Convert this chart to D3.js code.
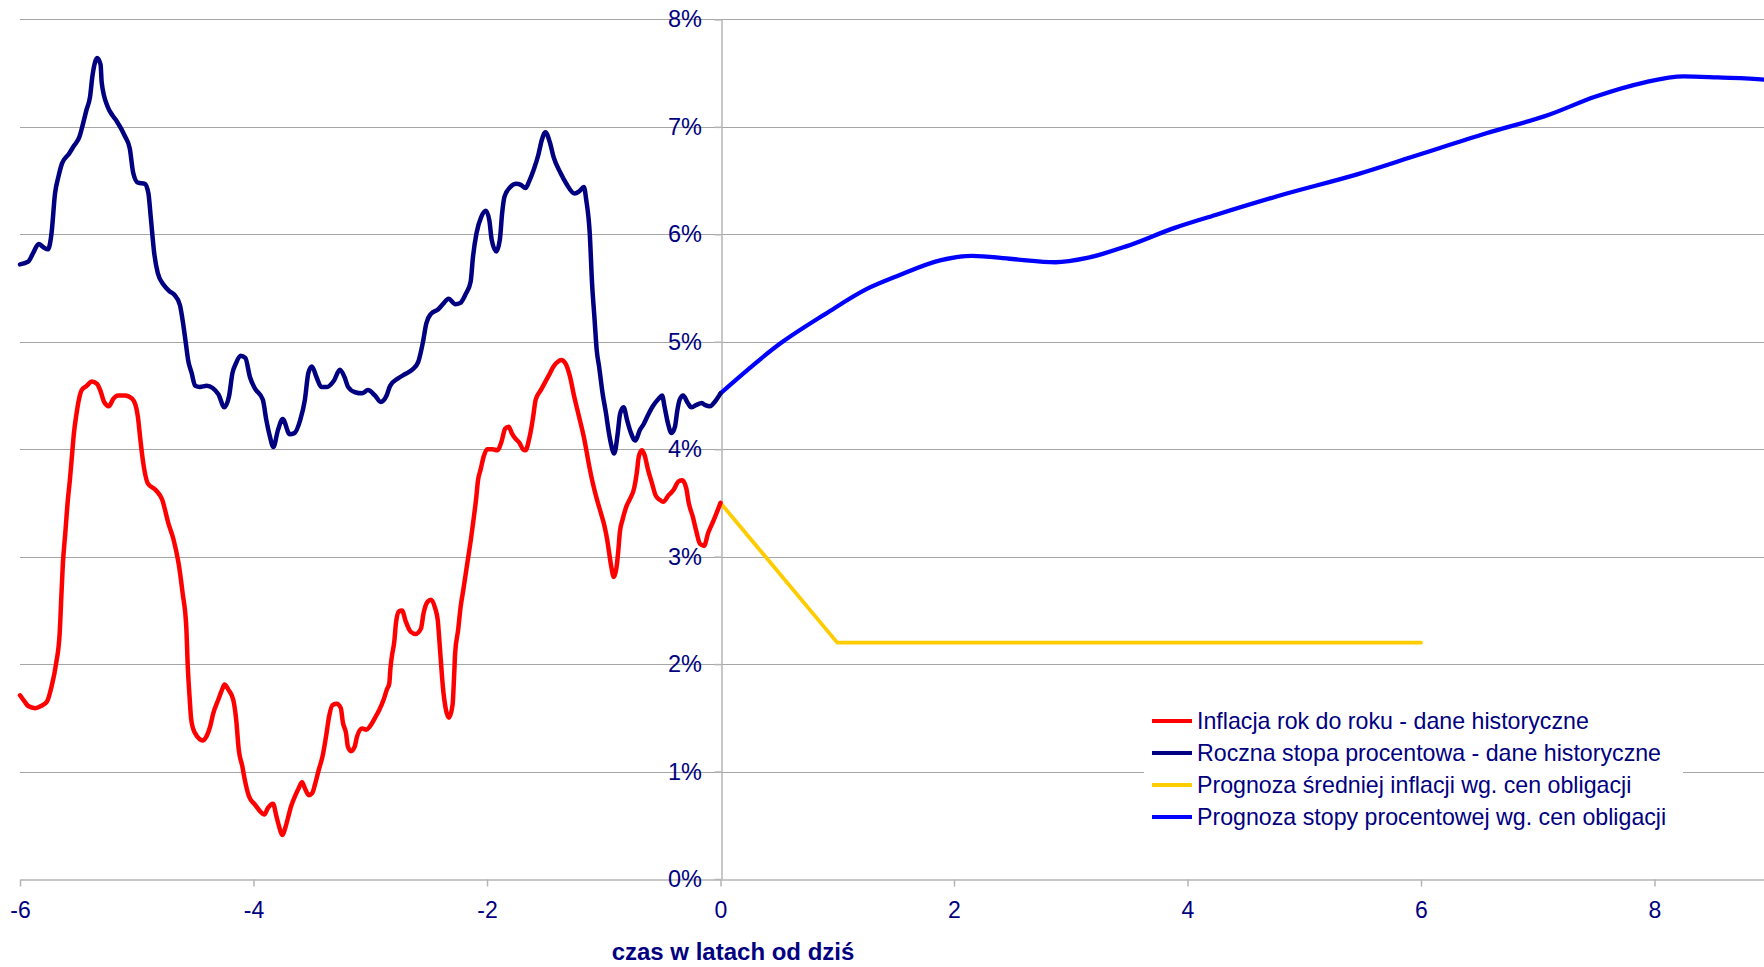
<!DOCTYPE html>
<html lang="pl">
<head>
<meta charset="utf-8">
<script src="https://cdn.jsdelivr.net/npm/d3@7"></script>
<style>
  html, body { margin: 0; padding: 0; background: #ffffff; }
  svg { display: block; }
  text { font-family: "Liberation Sans", Arial, sans-serif; fill: #000080; }
</style>
</head>
<body>
<svg id="chart" width="1764" height="967"></svg>
<script>
// Historical year-on-year inflation, % (years relative to today)
const inflationHistory = [
  [-6.00,1.71],[-5.96,1.65],[-5.93,1.61],[-5.87,1.59],[-5.82,1.61],[-5.77,1.65],[-5.73,1.79],[-5.69,2.01],
  [-5.66,2.29],[-5.647,2.60],[-5.634,2.91],[-5.612,3.22],[-5.59,3.53],[-5.573,3.71],[-5.551,3.99],[-5.538,4.15],
  [-5.516,4.33],[-5.494,4.47],[-5.472,4.55],[-5.428,4.59],[-5.385,4.63],[-5.341,4.61],[-5.31,4.54],[-5.28,4.44],
  [-5.24,4.40],[-5.20,4.47],[-5.16,4.50],[-5.10,4.50],[-5.04,4.47],[-5.01,4.41],[-4.99,4.30],[-4.97,4.10],
  [-4.948,3.90],[-4.904,3.68],[-4.838,3.62],[-4.782,3.53],[-4.729,3.31],[-4.685,3.16],[-4.642,2.94],[-4.607,2.66],
  [-4.576,2.35],[-4.563,1.98],[-4.546,1.67],[-4.533,1.48],[-4.502,1.36],[-4.432,1.29],[-4.401,1.33],[-4.371,1.42],
  [-4.345,1.54],[-4.301,1.67],[-4.270,1.76],[-4.248,1.81],[-4.214,1.76],[-4.174,1.67],[-4.148,1.48],[-4.126,1.20],
  [-4.096,1.05],[-4.074,0.92],[-4.039,0.77],[-3.986,0.69],[-3.943,0.63],[-3.908,0.60],[-3.877,0.66],[-3.833,0.70],
  [-3.803,0.58],[-3.781,0.49],[-3.755,0.41],[-3.724,0.49],[-3.702,0.58],[-3.680,0.67],[-3.645,0.77],[-3.615,0.84],
  [-3.584,0.90],[-3.558,0.84],[-3.527,0.78],[-3.497,0.80],[-3.471,0.89],[-3.440,1.02],[-3.409,1.14],[-3.374,1.36],
  [-3.353,1.51],[-3.322,1.62],[-3.287,1.63],[-3.252,1.59],[-3.235,1.46],[-3.208,1.36],[-3.191,1.23],[-3.165,1.19],
  [-3.134,1.23],[-3.112,1.33],[-3.069,1.40],[-3.034,1.39],[-3.003,1.42],[-2.959,1.50],[-2.924,1.57],[-2.885,1.67],
  [-2.859,1.76],[-2.837,1.82],[-2.828,1.95],[-2.815,2.07],[-2.793,2.22],[-2.780,2.38],[-2.754,2.49],[-2.728,2.50],
  [-2.697,2.40],[-2.653,2.30],[-2.610,2.28],[-2.566,2.33],[-2.544,2.47],[-2.509,2.58],[-2.479,2.60],[-2.444,2.52],
  [-2.422,2.41],[-2.400,2.10],[-2.378,1.79],[-2.356,1.60],[-2.326,1.50],[-2.295,1.62],[-2.282,1.88],[-2.273,2.10],
  [-2.247,2.32],[-2.225,2.54],[-2.203,2.69],[-2.181,2.85],[-2.160,3.00],[-2.138,3.16],[-2.116,3.34],[-2.094,3.53],
  [-2.077,3.71],[-2.055,3.81],[-2.029,3.93],[-1.998,4.00],[-1.954,4.00],[-1.911,3.99],[-1.876,4.07],[-1.845,4.19],
  [-1.814,4.21],[-1.788,4.15],[-1.758,4.10],[-1.723,4.06],[-1.692,4.00],[-1.670,3.99],[-1.640,4.09],[-1.618,4.21],
  [-1.605,4.30],[-1.583,4.46],[-1.539,4.55],[-1.474,4.68],[-1.430,4.77],[-1.386,4.82],[-1.364,4.83],[-1.329,4.80],
  [-1.290,4.68],[-1.255,4.50],[-1.211,4.30],[-1.168,4.10],[-1.124,3.84],[-1.093,3.68],[-1.058,3.53],[-1.023,3.40],
  [-0.993,3.28],[-0.971,3.16],[-0.953,3.03],[-0.936,2.91],[-0.914,2.81],[-0.892,2.89],[-0.875,3.06],[-0.862,3.23],
  [-0.840,3.34],[-0.805,3.47],[-0.774,3.54],[-0.739,3.64],[-0.717,3.78],[-0.700,3.93],[-0.674,3.99],[-0.652,3.95],
  [-0.621,3.81],[-0.586,3.68],[-0.556,3.57],[-0.521,3.53],[-0.490,3.51],[-0.446,3.57],[-0.403,3.62],[-0.359,3.70],
  [-0.328,3.71],[-0.294,3.64],[-0.272,3.50],[-0.237,3.37],[-0.206,3.23],[-0.176,3.12],[-0.141,3.10],[-0.106,3.22],
  [-0.062,3.33],[0,3.50]
];

// Historical one-year interest rate, %
const rateHistory = [
  [-6.00,5.72],[-5.93,5.745],[-5.89,5.82],[-5.84,5.91],[-5.80,5.88],[-5.76,5.86],[-5.73,6.01],[-5.70,6.38],
  [-5.67,6.54],[-5.64,6.66],[-5.58,6.75],[-5.54,6.82],[-5.49,6.91],[-5.46,7.03],[-5.43,7.16],[-5.40,7.28],
  [-5.38,7.47],[-5.36,7.59],[-5.34,7.64],[-5.31,7.58],[-5.30,7.41],[-5.25,7.19],[-5.21,7.11],[-5.17,7.05],
  [-5.10,6.91],[-5.06,6.80],[-5.03,6.57],[-4.99,6.48],[-4.93,6.47],[-4.90,6.38],[-4.88,6.16],[-4.85,5.82],
  [-4.82,5.64],[-4.77,5.53],[-4.72,5.47],[-4.68,5.44],[-4.63,5.34],[-4.61,5.22],[-4.58,4.99],[-4.56,4.83],
  [-4.53,4.71],[-4.50,4.59],[-4.46,4.58],[-4.40,4.59],[-4.35,4.57],[-4.30,4.51],[-4.25,4.39],[-4.21,4.49],
  [-4.18,4.71],[-4.15,4.80],[-4.11,4.87],[-4.07,4.85],[-4.03,4.67],[-3.99,4.57],[-3.92,4.46],[-3.89,4.27],
  [-3.86,4.12],[-3.83,4.02],[-3.79,4.18],[-3.75,4.28],[-3.69,4.14],[-3.65,4.15],[-3.60,4.27],[-3.56,4.46],
  [-3.53,4.71],[-3.50,4.77],[-3.46,4.67],[-3.42,4.58],[-3.37,4.58],[-3.31,4.64],[-3.26,4.74],[-3.22,4.67],
  [-3.19,4.58],[-3.13,4.53],[-3.07,4.52],[-3.02,4.55],[-2.96,4.50],[-2.91,4.44],[-2.86,4.50],[-2.83,4.59],
  [-2.76,4.66],[-2.70,4.70],[-2.64,4.74],[-2.59,4.81],[-2.55,4.99],[-2.52,5.17],[-2.48,5.26],[-2.42,5.30],
  [-2.37,5.36],[-2.33,5.40],[-2.27,5.35],[-2.23,5.36],[-2.18,5.45],[-2.14,5.56],[-2.12,5.79],[-2.09,6.01],
  [-2.05,6.16],[-2.01,6.22],[-1.98,6.13],[-1.96,5.95],[-1.92,5.84],[-1.89,5.95],[-1.87,6.20],[-1.85,6.35],
  [-1.80,6.44],[-1.75,6.47],[-1.71,6.46],[-1.67,6.43],[-1.64,6.49],[-1.60,6.60],[-1.56,6.74],[-1.53,6.88],
  [-1.50,6.95],[-1.46,6.85],[-1.43,6.72],[-1.37,6.57],[-1.32,6.47],[-1.25,6.38],[-1.21,6.40],[-1.17,6.44],
  [-1.15,6.32],[-1.12,6.01],[-1.10,5.54],[-1.08,5.23],[-1.06,4.92],[-1.04,4.77],[-1.01,4.52],[-0.98,4.33],
  [-0.96,4.18],[-0.94,4.06],[-0.91,3.96],[-0.88,4.15],[-0.86,4.33],[-0.83,4.39],[-0.80,4.27],[-0.77,4.16],
  [-0.73,4.08],[-0.69,4.18],[-0.66,4.23],[-0.62,4.32],[-0.58,4.40],[-0.53,4.47],[-0.50,4.50],[-0.48,4.40],
  [-0.45,4.24],[-0.42,4.15],[-0.39,4.21],[-0.37,4.36],[-0.35,4.46],[-0.32,4.50],[-0.28,4.43],[-0.25,4.39],
  [-0.21,4.41],[-0.16,4.43],[-0.13,4.41],[-0.09,4.40],[-0.05,4.44],[0,4.52]
];

// Average inflation implied by bond prices, %
const inflationForecast = [[0,3.50],[1,2.20],[6,2.20]];

// Interest-rate path implied by bond prices, %
const rateForecast = [
  [0,4.52],[0.52,4.99],[0.90,5.26],[1.25,5.49],[1.51,5.61],[1.89,5.76],[2.15,5.80],[2.50,5.77],
  [2.87,5.74],[3.14,5.78],[3.48,5.89],[3.89,6.06],[4.24,6.18],[4.82,6.37],[5.46,6.56],[5.98,6.74],
  [6.56,6.94],[7.09,7.11],[7.49,7.28],[7.90,7.41],[8.25,7.47],[8.54,7.46],[8.94,7.44],[9.00,7.43]
];

const xTicks = [-6, -4, -2, 0, 2, 4, 6, 8];
const yTicks = [0, 1, 2, 3, 4, 5, 6, 7, 8];
const xTitle = "czas w latach od dziś";

const legendItems = [
  { label: "Inflacja rok do roku - dane historyczne", color: "#ff0000" },
  { label: "Roczna stopa procentowa - dane historyczne", color: "#000080" },
  { label: "Prognoza średniej inflacji wg. cen obligacji", color: "#ffcc00" },
  { label: "Prognoza stopy procentowej wg. cen obligacji", color: "#0000ff" }
];

const W = 1764, H = 967;
const svg = d3.select("#chart");

const x = d3.scaleLinear().domain([-6, 9]).range([20, 20 + 15 * 116.75]);
const y = d3.scaleLinear().domain([0, 8]).range([879, 19.4]);

// horizontal gridlines
svg.append("g")
  .selectAll("line")
  .data(yTicks.filter(d => d > 0))
  .join("line")
  .attr("x1", x(-6)).attr("x2", W)
  .attr("y1", d => Math.round(y(d)) + 0.5).attr("y2", d => Math.round(y(d)) + 0.5)
  .attr("stroke", "#a6a6a6").attr("stroke-width", 1.2);

// x axis along 0% (plain hyphen for negative years)
const xAxis = svg.append("g")
  .attr("transform", `translate(0,${Math.round(y(0)) + 0.5})`)
  .call(d3.axisBottom(x).tickValues(xTicks).tickFormat(d => String(d))
    .tickSize(7).tickSizeOuter(0).tickPadding(15.5));
xAxis.select(".domain").attr("stroke", "#b4b4b4").attr("stroke-width", 1.5);
xAxis.selectAll(".tick line").attr("stroke", "#b4b4b4").attr("stroke-width", 1.5);
xAxis.selectAll("text")
  .style("font-family", "'Liberation Sans', Arial, sans-serif")
  .style("font-size", "23px").attr("fill", "#000080");

// y axis at year 0
const yAxis = svg.append("g")
  .attr("transform", `translate(${Math.round(x(0)) + 0.5},0)`)
  .call(d3.axisLeft(y).tickValues(yTicks).tickFormat(d => d + "%")
    .tickSize(7).tickSizeOuter(0).tickPadding(12.5));
yAxis.select(".domain").attr("stroke", "#b4b4b4").attr("stroke-width", 1.5);
yAxis.selectAll(".tick line").attr("stroke", "#b4b4b4").attr("stroke-width", 1.5);
yAxis.selectAll("text")
  .style("font-family", "'Liberation Sans', Arial, sans-serif")
  .style("font-size", "23.5px").attr("fill", "#000080");

// axis title
svg.append("text")
  .attr("x", 733).attr("y", 960)
  .attr("text-anchor", "middle")
  .style("font-size", "24px").style("font-weight", "bold")
  .text(xTitle);

// series
const smooth = d3.line().x(d => x(d[0])).y(d => y(d[1])).curve(d3.curveMonotoneX);
const straight = d3.line().x(d => x(d[0])).y(d => y(d[1]));

const series = [
  { data: rateForecast, color: "#0000ff", gen: smooth, width: 4.3 },
  { data: inflationForecast, color: "#ffcc00", gen: straight, width: 3.8 },
  { data: rateHistory, color: "#000080", gen: smooth, width: 4.5 },
  { data: inflationHistory, color: "#ff0000", gen: smooth, width: 4.5 }
];

svg.append("g")
  .selectAll("path")
  .data(series)
  .join("path")
  .attr("d", s => s.gen(s.data))
  .attr("fill", "none")
  .attr("stroke", s => s.color)
  .attr("stroke-width", s => s.width)
  .attr("stroke-linejoin", "round")
  .attr("stroke-linecap", "round");

// legend
const legend = svg.append("g");
legend.append("rect")
  .attr("x", 1144).attr("y", 700).attr("width", 539).attr("height", 140)
  .attr("fill", "#ffffff");
const rows = legend.selectAll("g.row")
  .data(legendItems)
  .join("g")
  .attr("class", "row")
  .attr("transform", (d, i) => `translate(0,${721 + i * 32})`);
rows.append("line")
  .attr("x1", 1152).attr("x2", 1192).attr("y1", 0).attr("y2", 0)
  .attr("stroke", d => d.color).attr("stroke-width", 4);
rows.append("text")
  .attr("x", 1197).attr("y", 0).attr("dy", "0.36em")
  .style("font-size", "23.2px")
  .text(d => d.label);
</script>
</body>
</html>
